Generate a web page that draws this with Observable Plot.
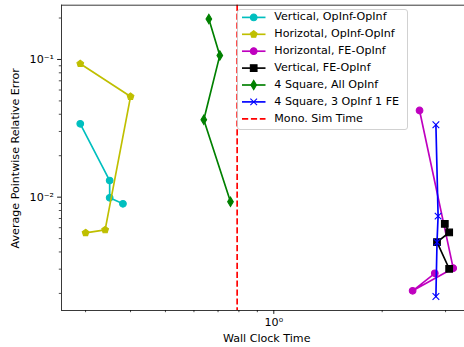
<!DOCTYPE html>
<html><head><meta charset="utf-8">
<script src="https://cdn.jsdelivr.net/npm/d3@7"></script>
<script src="https://cdn.jsdelivr.net/npm/@observablehq/plot@0.6"></script>
<style>body{margin:0;background:#fff} svg{display:block}</style>
</head><body><div id="chart"></div>
<script>
// ---- data ----
const seriesNames = ["Vertical, OpInf-OpInf","Horizotal, OpInf-OpInf","Horizontal, FE-OpInf","Vertical, FE-OpInf","4 Square, All OpInf","4 Square, 3 OpInf 1 FE"];
const seriesColors = ["#00bfbf","#bfbf00","#bf00bf","#000000","#008000","#0000ff"];
const seriesMarkers = ["circle","pentagon","circle","square","thinDiamond","x"];
const vertOpInfTime = [0.290, 0.350, 0.350, 0.381];
const vertOpInfError = [0.0341, 0.0132, 0.0099, 0.00895];
const horizOpInfTime = [0.290, 0.400, 0.340, 0.300];
const horizOpInfError = [0.0931, 0.0538, 0.00579, 0.00551];
const horizFETime = [2.54, 3.15, 2.43, 2.80];
const horizFEError = [0.0426, 0.00305, 0.00209, 0.00280];
const vertFETime = [2.985, 3.07, 2.84, 3.07];
const vertFEError = [0.00641, 0.00554, 0.00471, 0.00302];
const square4Time = [0.660, 0.708, 0.639, 0.758];
const square4Error = [0.197, 0.107, 0.0365, 0.00927];
const square4FETime = [2.82, 2.86, 2.84, 2.82];
const square4FEError = [0.0336, 0.00728, 0.00471, 0.0019];
const monoSimLabel = "Mono. Sim Time";
const monoSimTime = [0.791];
const xMajorTicks = [1];
const xMinorTicks = [0.3,0.4,0.5,0.6,0.7,0.8,0.9,2,3];
const yMajorTicks = [0.01, 0.1];
const yMinorTicks = [0.002,0.003,0.004,0.005,0.006,0.007,0.008,0.009,0.02,0.03,0.04,0.05,0.06,0.07,0.08,0.09,0.2];
const xLabel = "Wall Clock Time";
const yLabel = "Average Pointwise Relative Error";
const xDomain = [0.2572, 3.386];
const yDomain = [0.001503, 0.2478];

const allTimes = [vertOpInfTime, horizOpInfTime, horizFETime, vertFETime, square4Time, square4FETime];
const allErrors = [vertOpInfError, horizOpInfError, horizFEError, vertFEError, square4Error, square4FEError];

// ---- markers ----
const R = s => Math.sqrt(s / Math.PI);
const sym = {
  circle: {draw(c, s){const r = R(s); c.moveTo(r,0); c.arc(0,0,r,0,2*Math.PI); c.closePath();}},
  square: {draw(c, s){const r = R(s); c.moveTo(-r,-r); c.lineTo(r,-r); c.lineTo(r,r); c.lineTo(-r,r); c.closePath();}},
  pentagon: {draw(c, s){const r = R(s)*1.05; for (let i=0;i<5;i++){const a=-Math.PI/2+i*2*Math.PI/5; const px=r*Math.cos(a), py=r*Math.sin(a); if(i) c.lineTo(px,py); else c.moveTo(px,py);} c.closePath();}},
  thinDiamond: {draw(c, s){const h = R(s)*1.414, w = h*0.6; c.moveTo(0,-h); c.lineTo(w,0); c.lineTo(0,h); c.lineTo(-w,0); c.closePath();}},
  x: {draw(c, s){const r = R(s); c.moveTo(-r,-r); c.lineTo(r,r); c.moveTo(r,-r); c.lineTo(-r,r);}}
};
const MR = 3.33;          // marker half-size (px)
const LW = 1.67;          // line width
const EW = 1.1;           // marker edge width
const DASH = "6.2,2.7";
const FS = 11.1;          // font size

const sup = {"-":"⁻","0":"⁰","1":"¹","2":"²","3":"³"};
const powFmt = v => "10" + String(Math.round(Math.log10(v))).split("").map(ch => sup[ch]).join("");

const W = 464, H = 347, mL = 61, mR = 0, mT = 4.7, mB = 37;

const marks = [];
seriesNames.forEach((name, i) => {
  const data = allTimes[i].map((t, j) => ({t, e: allErrors[i][j]}));
  const col = seriesColors[i];
  marks.push(Plot.line(data, {x: "t", y: "e", stroke: col, strokeWidth: LW}));
  const isX = seriesMarkers[i] === "x";
  marks.push(Plot.dot(data, {x: "t", y: "e", symbol: sym[seriesMarkers[i]], r: MR,
    fill: isX ? "none" : col, stroke: col, strokeWidth: EW}));
});
marks.push(Plot.ruleX(monoSimTime, {stroke: "#ff0000", strokeWidth: LW, strokeDasharray: DASH}));

const chart = Plot.plot({
  width: W, height: H,
  marginLeft: mL, marginRight: mR, marginTop: mT, marginBottom: mB,
  style: {fontFamily: "DejaVu Sans", fontSize: FS + "px", color: "black", background: "white"},
  x: {type: "log", domain: xDomain},
  y: {type: "log", domain: yDomain},
  marks: [
    ...marks,
    Plot.ruleX([xDomain[0]], {stroke: "#222", strokeWidth: 0.9}),
    Plot.ruleY([yDomain[0], yDomain[1]], {stroke: "#222", strokeWidth: 0.9}),
    Plot.axisX(xMajorTicks, {tickSize: 3.9, tickPadding: 3.6, strokeWidth: 0.9, tickFormat: powFmt, fontSize: FS, label: null}),
    Plot.axisX(xMinorTicks, {tickSize: 2.2, strokeWidth: 0.7, tickFormat: () => "", label: null}),
    Plot.axisY(yMajorTicks, {tickSize: 3.9, tickPadding: 3.6, strokeWidth: 0.9, tickFormat: powFmt, fontSize: FS, label: null}),
    Plot.axisY(yMinorTicks, {tickSize: 2.2, strokeWidth: 0.7, tickFormat: () => "", label: null})
  ]
});
document.getElementById("chart").appendChild(chart);

const svg = d3.select(chart);
// axis labels
svg.append("text").attr("x", 266.7).attr("y", 339.3).attr("text-anchor", "middle")
  .attr("dominant-baseline", "middle").attr("font-family", "DejaVu Sans").attr("font-size", FS).attr("fill", "black").text(xLabel);
svg.append("text").attr("transform", "translate(15.8,158.3) rotate(-90)").attr("text-anchor", "middle")
  .attr("dominant-baseline", "middle").attr("font-family", "DejaVu Sans").attr("font-size", FS).attr("fill", "black").text(yLabel);

// legend
const lg = svg.append("g").attr("font-family", "DejaVu Sans").attr("font-size", FS).attr("text-anchor", "start");
lg.append("rect").attr("x", 237.5).attr("y", 9.5).attr("width", 170).attr("height", 120).attr("rx", 2.5)
  .attr("fill", "white").attr("fill-opacity", 0.8).attr("stroke", "#cccccc").attr("stroke-width", 0.9);
const rowY = i => 17.4 + i * 16.9;
const legendItems = seriesNames.map((n, i) => ({name: n, color: seriesColors[i], marker: seriesMarkers[i]}));
legendItems.push({name: monoSimLabel, color: "#ff0000", marker: null, dashed: true});
legendItems.forEach((it, i) => {
  const y = rowY(i);
  lg.append("line").attr("x1", 242).attr("x2", 265.5).attr("y1", y).attr("y2", y)
    .attr("stroke", it.color).attr("stroke-width", LW).attr("stroke-dasharray", it.dashed ? DASH : null);
  if (it.marker) {
    const isX = it.marker === "x";
    lg.append("path").attr("transform", `translate(253.7,${y})`)
      .attr("d", d3.symbol().type(sym[it.marker]).size(Math.PI * MR * MR)())
      .attr("fill", isX ? "none" : it.color).attr("stroke", it.color).attr("stroke-width", EW);
  }
  lg.append("text").attr("x", 274.3).attr("y", y).attr("dominant-baseline", "middle").attr("text-anchor", "start").attr("fill", "black").text(it.name);
});
</script></body></html>
